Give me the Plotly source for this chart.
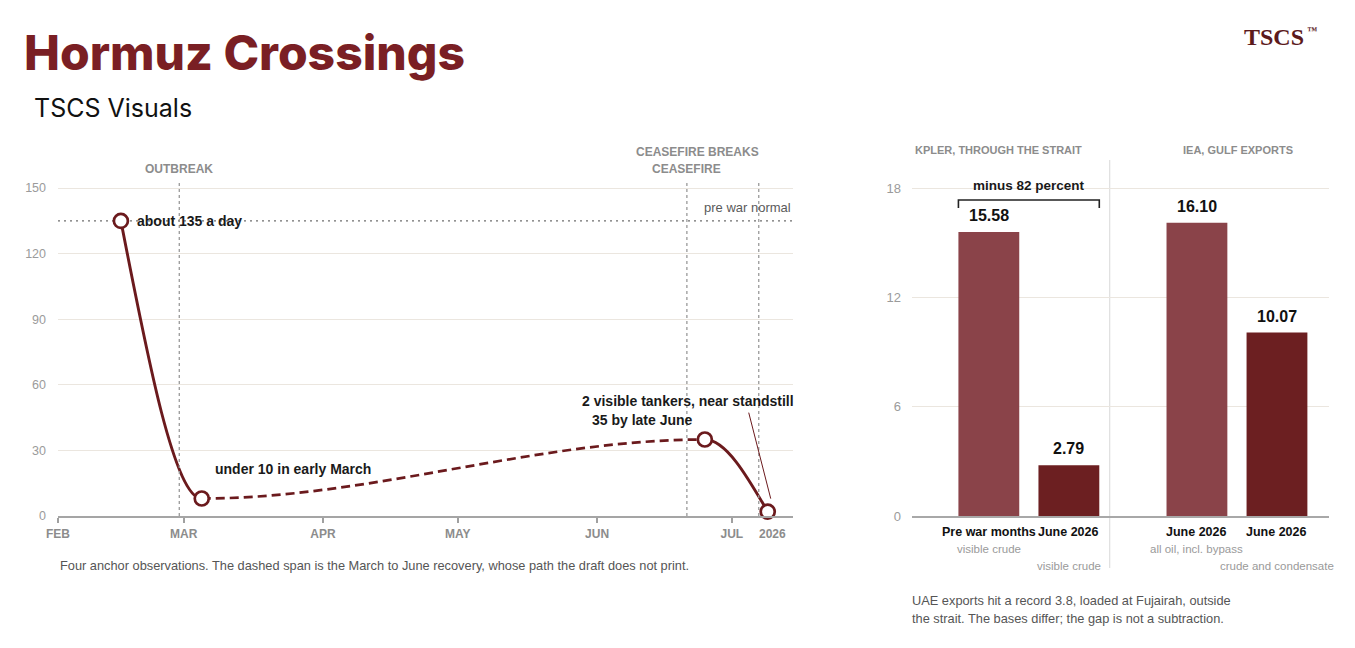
import pandas as pd
import plotly.graph_objects as go

# ---------------- data ----------------
line_dates = ["2026-02-15", "2026-03-05", "2026-06-25", "2026-07-09"]
line_values = [135, 8, 35, 2]
line_notes = ["about 135 a day", "under 10 in early March", "35 by late June",
              "2 visible tankers, near standstill"]
event_dates = ["2026-02-28", "2026-06-21", "2026-07-07"]
event_names = ["OUTBREAK", "CEASEFIRE", "CEASEFIRE BREAKS"]
prewar_normal = 135
prewar_label = "pre war normal"
month_dates = ["2026-02-01", "2026-03-01", "2026-04-01", "2026-05-01", "2026-06-01", "2026-07-01"]
month_labels = ["FEB", "MAR", "APR", "MAY", "JUN", "JUL"]
year_date = "2026-07-10"
year_label = "2026"
line_yticks = [0, 30, 60, 90, 120, 150]
x_start, x_end = "2026-02-01", "2026-07-14 15:00"
line_ymax = 153.7

bar_labels = ["Pre war months", "June 2026", "June 2026", "June 2026"]
bar_notes = ["visible crude", "visible crude", "all oil, incl. bypass", "crude and condensate"]
bar_values = [15.58, 2.79, 16.10, 10.07]
group_titles = ["KPLER, THROUGH THE STRAIT", "IEA, GULF EXPORTS"]
bar_yticks = [0, 6, 12, 18]
bar_ymax = 18.44

title_text = "Hormuz Crossings"
subtitle_text = "TSCS Visuals"
logo_text = "TSCS"
logo_mark = "™"
line_caption = ("Four anchor observations. The dashed span is the March to June recovery, "
                "whose path the draft does not print.")
bar_caption = ["UAE exports hit a record 3.8, loaded at Fujairah, outside",
               "the strait. The bases differ; the gap is not a subtraction."]

# ---------------- styling / layout helpers ----------------
OFF = 8                      # page margin of the html body
W, H = 1355 - 2 * OFF, 648 - 2 * OFF
RED = "#6b1a1d"
TITLE_RED = "#7a1f24"
BAR_LIGHT = "#8a4349"
BAR_DARK = "#6c1f21"
GRID = "#ebe6df"
GRAY_TXT = "#8c8c8c"
SANS = "Liberation Sans, Arial, sans-serif"


def px(v):
    return (v - OFF) / W


def py(v):
    return 1 - (v - OFF) / H


t0 = pd.Timestamp(x_start)


def day(d):
    return (pd.Timestamp(d) - t0) / pd.Timedelta(days=1)


xd = [day(d) for d in line_dates]
x_max = day(x_end)


# monotone-x cubic (same rule as d3.curveMonotoneX), bezier segments in data space
def sgn(v):
    return (v > 0) - (v < 0)


def monotone_segments(xs, ys):
    n = len(xs)
    h = [xs[i + 1] - xs[i] for i in range(n - 1)]
    s = [(ys[i + 1] - ys[i]) / h[i] for i in range(n - 1)]
    t = [0.0] * n
    for i in range(1, n - 1):
        p = (s[i - 1] * h[i] + s[i] * h[i - 1]) / (h[i - 1] + h[i])
        t[i] = (sgn(s[i - 1]) + sgn(s[i])) * min(abs(s[i - 1]), abs(s[i]), 0.5 * abs(p))
    t[0] = (3 * s[0] - t[1]) / 2
    t[-1] = (3 * s[-1] - t[-2]) / 2
    segs = []
    for i in range(n - 1):
        dx = h[i] / 3
        segs.append("M {:.4f},{:.4f} C {:.4f},{:.4f} {:.4f},{:.4f} {:.4f},{:.4f}".format(
            xs[i], ys[i], xs[i] + dx, ys[i] + dx * t[i],
            xs[i + 1] - dx, ys[i + 1] - dx * t[i + 1], xs[i + 1], ys[i + 1]))
    return segs


segs = monotone_segments(xd, line_values)

fig = go.Figure()

# markers of the four observations
fig.add_trace(go.Scatter(
    x=xd, y=line_values, mode="markers", xaxis="x", yaxis="y",
    marker=dict(size=14, color="white", line=dict(color=RED, width=2.7)),
    cliponaxis=False, hoverinfo="skip", showlegend=False))

# bars
bar_x = [0, 1, 2.6, 3.6]
fig.add_trace(go.Bar(
    x=bar_x, y=bar_values, width=0.76, xaxis="x2", yaxis="y2",
    marker=dict(color=[BAR_LIGHT, BAR_DARK, BAR_LIGHT, BAR_DARK], line=dict(width=0)),
    hoverinfo="skip", showlegend=False))

shapes = []
# curve: solid anchor segments, dashed recovery span
shapes.append(dict(type="path", xref="x", yref="y", path=segs[0] + " " + segs[2],
                   line=dict(color=RED, width=2.9), layer="between"))
shapes.append(dict(type="path", xref="x", yref="y", path=segs[1],
                   line=dict(color=RED, width=2.7, dash="9px,5px"), layer="between"))
# pre war normal
shapes.append(dict(type="line", xref="x", yref="y", x0=0, x1=x_max,
                   y0=prewar_normal, y1=prewar_normal,
                   line=dict(color="#6f6f6f", width=1.3, dash="2px,4px"), layer="between"))
# event lines
for d in event_dates:
    shapes.append(dict(type="line", xref="x", yref="y", x0=day(d), x1=day(d),
                       y0=0, y1=line_ymax,
                       line=dict(color="#9a9a9a", width=1.3, dash="3px,3px"),
                       layer="between"))
# pointer from the last note to the last observation
shapes.append(dict(type="line", xref="x", yref="y", xsizemode="pixel", ysizemode="pixel",
                   xanchor=xd[3], yanchor=line_values[3], x0=3, y0=13, x1=-19, y1=99,
                   line=dict(color=RED, width=1)))
# divider between bar panels
shapes.append(dict(type="line", xref="x2", yref="paper", x0=1.51, x1=1.51,
                   y0=py(568), y1=py(160), line=dict(color="#dedede", width=1.2),
                   layer="below"))
# bracket over first panel
shapes.append(dict(type="path", xref="x2", yref="y2",
                   path="M -0.38,16.9 L -0.38,17.34 L 1.38,17.34 L 1.38,16.9",
                   line=dict(color="#222222", width=1.6)))

ann = []


def A(**kw):
    kw.setdefault("showarrow", False)
    ann.append(kw)


def bold(size, color="#1a1a1a"):
    return dict(family=SANS, size=size, color=color, weight="bold")


def reg(size, color="#555555"):
    return dict(family=SANS, size=size, color=color)


# titles
A(text=title_text, xref="paper", yref="paper", x=px(22), y=py(52), xanchor="left",
  yanchor="middle",
  font=dict(family="Inter, Roboto, sans-serif", size=48, color=TITLE_RED, weight=800))
A(text=subtitle_text, xref="paper", yref="paper", x=px(32), y=py(108), xanchor="left",
  yanchor="middle", font=dict(family="Inter, Roboto, sans-serif", size=25, color="#111111"))
A(text=logo_text, xref="paper", yref="paper", x=px(1306), y=py(37), xanchor="right",
  yanchor="middle", font=dict(family="Liberation Serif, DejaVu Serif, serif", size=24,
                              color="#5c1a1c", weight="bold"))
A(text=logo_mark, xref="paper", yref="paper", x=px(1305), y=py(31), xanchor="left",
  yanchor="middle", font=dict(family="Liberation Serif, DejaVu Serif, serif", size=10,
                              color="#5c1a1c", weight="bold"))

# point notes
A(text=line_notes[0], x=xd[0], y=line_values[0], xref="x", yref="y", xanchor="left",
  yanchor="middle", xshift=14, font=bold(14))
A(text=line_notes[1], x=xd[1], y=line_values[1], xref="x", yref="y", xanchor="left",
  yanchor="middle", xshift=11, yshift=30, font=bold(14))
A(text=line_notes[2], x=xd[2], y=line_values[2], xref="x", yref="y", xanchor="right",
  yanchor="middle", xshift=-10, yshift=19, font=bold(14))
A(text=line_notes[3], x=xd[3], y=line_values[3], xref="x", yref="y", xanchor="right",
  yanchor="middle", xshift=28, yshift=111, font=bold(14))

# pre war normal label
A(text=prewar_label, x=x_max, y=prewar_normal, xref="x", yref="y", xanchor="right",
  yanchor="middle", yshift=13, font=reg(13, "#5a5a5a"))

# event labels
A(text=event_names[0], x=day(event_dates[0]), y=py(169), xref="x", yref="paper",
  xanchor="center", yanchor="middle", font=bold(12, GRAY_TXT))
A(text=event_names[1], x=day(event_dates[1]), y=py(169), xref="x", yref="paper",
  xanchor="center", yanchor="middle", font=bold(12, GRAY_TXT))
A(text=event_names[2], x=day(event_dates[2]), y=py(152), xref="x", yref="paper",
  xanchor="right", yanchor="middle", xshift=2, font=bold(12, GRAY_TXT))

# year label on the time axis
A(text=year_label, x=day(year_date), y=py(534), xref="x", yref="paper", xanchor="center",
  yanchor="middle", font=bold(12, GRAY_TXT))

# captions
A(text=line_caption, xref="paper", yref="paper", x=px(58), y=py(565), xanchor="left",
  yanchor="middle", font=reg(12.8, "#555555"))
A(text=bar_caption[0], xref="paper", yref="paper", x=px(910), y=py(600), xanchor="left",
  yanchor="middle", font=reg(12.8, "#555555"))
A(text=bar_caption[1], xref="paper", yref="paper", x=px(910), y=py(618), xanchor="left",
  yanchor="middle", font=reg(12.8, "#555555"))

# bar panel headers
A(text=group_titles[0], xref="paper", yref="paper", x=px(999), y=py(150), xanchor="center",
  yanchor="middle", font=bold(11, GRAY_TXT))
A(text=group_titles[1], xref="paper", yref="paper", x=px(1238), y=py(150), xanchor="center",
  yanchor="middle", font=bold(11, GRAY_TXT))

# bracket label
drop = round((1 - bar_values[1] / bar_values[0]) * 100)
A(text=f"minus {drop} percent", x=0.5, y=17.34, xref="x2", yref="y2", xanchor="center",
  yanchor="bottom", yshift=5, font=bold(13.5))

# bar values, categories, notes
note_rows = [549, 566, 549, 566]
for i, v in enumerate(bar_values):
    A(text=f"{v:.2f}", x=bar_x[i], y=v, xref="x2", yref="y2", xanchor="center",
      yanchor="bottom", yshift=6, font=bold(16, "#111111"))
    A(text=bar_labels[i], x=bar_x[i], y=py(532), xref="x2", yref="paper", xanchor="center",
      yanchor="middle", font=bold(12.5, "#111111"))
    A(text=bar_notes[i], x=bar_x[i], y=py(note_rows[i]), xref="x2", yref="paper",
      xanchor="center", yanchor="middle", font=reg(11.5, "#9a9a9a"))

fig.update_layout(
    width=W, height=H, margin=dict(l=0, r=0, t=0, b=0, autoexpand=False),
    paper_bgcolor="white", plot_bgcolor="rgba(0,0,0,0)",
    showlegend=False, shapes=shapes, annotations=ann,
    xaxis=dict(domain=[px(58), px(793)], range=[0, x_max], anchor="y", automargin=False,
               tickvals=[day(d) for d in month_dates], ticktext=month_labels,
               ticks="outside", ticklen=5, tickwidth=1.5, tickcolor="#a0a0a0",
               showline=True, linecolor="#a5a5a5", linewidth=2, showgrid=False,
               zeroline=False, ticklabelstandoff=1,
               tickfont=dict(family=SANS, size=12, color=GRAY_TXT, weight="bold"),
               fixedrange=True),
    yaxis=dict(domain=[py(516), py(180)], range=[0, line_ymax], anchor="x", automargin=False,
               tickvals=line_yticks, showgrid=True, gridcolor=GRID, gridwidth=1,
               zeroline=False, showline=False, ticks="", ticklabelstandoff=11,
               tickfont=dict(family=SANS, size=12.5, color="#9b9b9b"), fixedrange=True),
    xaxis2=dict(domain=[px(912), px(1329)], range=[-0.96, 4.25], anchor="y2",
                automargin=False,
                showticklabels=False, ticks="", showline=True, linecolor="#a8a8a8",
                linewidth=2, showgrid=False, zeroline=False, fixedrange=True),
    yaxis2=dict(domain=[py(516), py(180)], range=[0, bar_ymax], anchor="x2",
                automargin=False,
                tickvals=bar_yticks, showgrid=True, gridcolor=GRID, gridwidth=1,
                zeroline=False, showline=False, ticks="", ticklabelstandoff=10,
                tickfont=dict(family=SANS, size=13, color="#9b9b9b"), fixedrange=True),
)

fig.write_html("out.html", config={"displayModeBar": False})
